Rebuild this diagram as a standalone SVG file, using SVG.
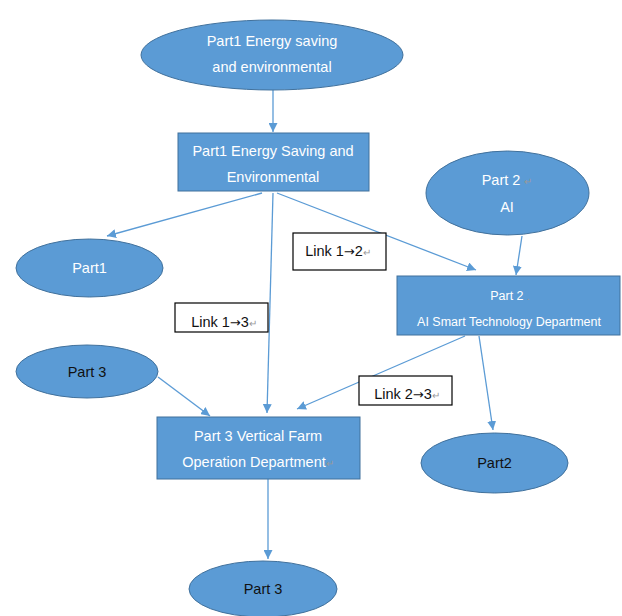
<svg xmlns="http://www.w3.org/2000/svg" width="622" height="616" viewBox="0 0 622 616">
<style>
.n{fill:#5B9BD5;stroke:#41719C;stroke-width:1}
.t{font-family:"Liberation Sans",Arial,sans-serif;font-size:14.5px;text-anchor:middle}
.w{fill:#ffffff}
.k{fill:#111111}
.s{font-size:12.5px}
.m{fill:#999999;font-size:10px}
.r{font-family:"DejaVu Sans",sans-serif;font-size:13px}
.c{stroke:#5B9BD5;stroke-width:1.3;fill:none;marker-end:url(#a)}
.lb{fill:#ffffff;stroke:#000000;stroke-width:1.2}
</style>
<defs>
<marker id="a" viewBox="0 0 10 10" refX="10" refY="5" markerWidth="9" markerHeight="9" markerUnits="userSpaceOnUse" orient="auto">
<path d="M0,0 L10,5 L0,10 z" fill="#5B9BD5"/>
</marker>
</defs>
<rect width="622" height="616" fill="#ffffff"/>
<g id="connectors">
<line class="c" x1="273" y1="90" x2="273" y2="132"/>
<line class="c" x1="262" y1="193" x2="107" y2="236"/>
<line class="c" x1="273" y1="193" x2="267" y2="413"/>
<line class="c" x1="277" y1="193" x2="476" y2="270"/>
<line class="c" x1="522" y1="236" x2="516" y2="275"/>
<line class="c" x1="465" y1="336" x2="297" y2="409"/>
<line class="c" x1="479" y1="336" x2="493" y2="430"/>
<line class="c" x1="158" y1="377" x2="210" y2="416"/>
<line class="c" x1="268" y1="479" x2="268" y2="559"/>
</g>
<g id="top">
<ellipse class="n" cx="272" cy="55" rx="131" ry="35"/>
<text class="t w" x="272" y="46">Part1 Energy saving</text>
<text class="t w" x="272" y="72">and environmental</text>
</g>
<g id="box1">
<rect class="n" x="178" y="133" width="191" height="58"/>
<text class="t w" x="273" y="156">Part1 Energy Saving  and</text>
<text class="t w" x="273" y="182">Environmental</text>
</g>
<g id="part1">
<ellipse class="n" cx="89.5" cy="268" rx="73.5" ry="29"/>
<text class="t w" x="89.5" y="273">Part1</text>
</g>
<g id="part2ai">
<ellipse class="n" cx="507.5" cy="193" rx="81.5" ry="42"/>
<text class="t w" x="507" y="185">Part 2 <tspan class="m">↵</tspan></text>
<text class="t w" x="507" y="212">AI</text>
</g>
<g id="box2">
<rect class="n" x="397" y="276" width="223" height="59"/>
<text class="t w s" x="510" y="300">Part 2 <tspan class="m">.</tspan></text>
<text class="t w s" x="509" y="326">AI Smart Technology Department</text>
</g>
<g id="link12">
<rect class="lb" x="293" y="233" width="93" height="37"/>
<text class="t k" x="338" y="256">Link 1<tspan class="r">→</tspan>2<tspan class="m">↵</tspan></text>
</g>
<g id="link13">
<rect class="lb" x="175" y="303" width="93" height="29"/>
<text class="t k" x="224" y="327">Link 1<tspan class="r">→</tspan>3<tspan class="m">↵</tspan></text>
</g>
<g id="part3left">
<ellipse class="n" cx="87" cy="371.5" rx="71" ry="26.5"/>
<text class="t k" x="87" y="376.5">Part 3</text>
</g>
<g id="box3">
<rect class="n" x="157" y="417" width="203" height="62"/>
<text class="t w" x="258" y="441">Part 3 Vertical Farm</text>
<text class="t w" x="258" y="467">Operation Department<tspan class="m">↵</tspan></text>
</g>
<g id="link23">
<rect class="lb" x="359" y="376" width="93" height="29"/>
<text class="t k" x="407" y="399">Link 2<tspan class="r">→</tspan>3<tspan class="m">↵</tspan></text>
</g>
<g id="part2lower">
<ellipse class="n" cx="494.5" cy="463" rx="73.5" ry="30"/>
<text class="t k" x="494.5" y="468">Part2</text>
</g>
<g id="part3bottom">
<ellipse class="n" cx="263" cy="589" rx="74" ry="28"/>
<text class="t k" x="263" y="594">Part 3</text>
</g>
</svg>
